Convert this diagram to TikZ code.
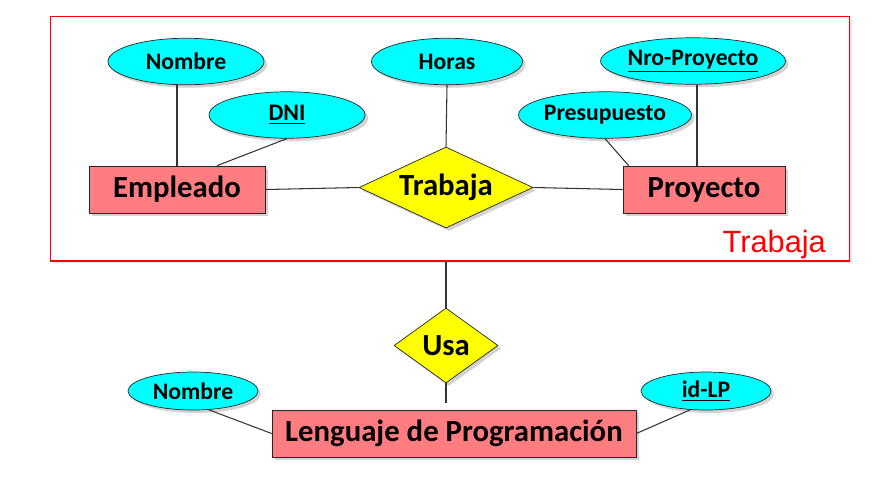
\documentclass[tikz,border=0pt]{standalone}
\usepackage{fontspec}
\setmainfont{Carlito}
\newfontfamily\arialfont{Liberation Sans}
\usepackage{xcolor}
\usetikzlibrary{positioning, shapes.geometric, shadows}
\definecolor{erEntity}{RGB}{255,124,128}
\definecolor{erAttr}{RGB}{0,255,255}
\definecolor{erRel}{RGB}{255,255,0}
\definecolor{erFrame}{RGB}{255,0,0}

\begin{document}
\begin{tikzpicture}[
    x=0.02cm, y=-0.02cm,
    shade/.style={drop shadow={shadow xshift=0.06cm, shadow yshift=-0.06cm, opacity=0.35}},
    entity/.style={draw=black!85, fill=erEntity, shade, minimum height=0.94cm,
      inner sep=0pt, font=\fontsize{17.5}{20}\selectfont\bfseries},
    attr/.style={ellipse, draw=black!85, fill=erAttr, shade, minimum width=3.12cm,
      minimum height=0.93cm, inner sep=0pt, font=\fontsize{13.5}{16}\selectfont\bfseries},
    rel/.style={diamond, draw=black!85, fill=erRel, shade, inner sep=0pt,
      font=\fontsize{17.5}{20}\selectfont\bfseries},
    group/.style={draw=erFrame, line width=0.6pt, fill=white,
      drop shadow={shadow xshift=0.05cm, shadow yshift=-0.05cm, opacity=0.2}},
    link/.style={draw=black!80, line width=0.6pt}
  ]
    \useasboundingbox (0,0) rectangle (884,488);
    % agregacion
    \node[group, minimum width=16cm, minimum height=4.9cm] (agg) at (450,138.5) {};
    \node[text=erFrame, font=\arialfont\fontsize{17.5}{20}\selectfont, anchor=base east] (aggname) at (832,252) {Trabaja};
    % entidades y relacion
    \node[entity, minimum width=3.52cm] (emp) at (177,189.5) {Empleado};
    \node[entity, minimum width=3.24cm] (proy) at (704,189.5) {Proyecto};
    \node[rel, aspect=2.15, minimum width=3.48cm, minimum height=1.62cm] (trab) at (446,187.5) {Trabaja};
    \node[attr] (nom) at (186,61.5) {Nombre};
    \node[attr] (dni) at (287,115) {\underline{DNI}};
    \node[attr, minimum width=3.02cm] (horas) at (447,61.5) {Horas};
    \node[attr, minimum width=3.14cm] (pres) at (605,115) {Presupuesto};
    \node[attr] (nro) at (693,61) {\underline{Nro-Proyecto}};
    % parte de abajo
    \node[rel, aspect=1.39, minimum width=2.08cm, minimum height=1.5cm] (usa) at (446,345.5) {Usa};
    \node[entity, minimum width=7.28cm] (leng) at (454,433.5) {Lenguaje de Programación};
    \node[attr, minimum width=2.6cm, minimum height=0.76cm] (nom2) at (193,391) {Nombre};
    \node[attr, minimum width=2.6cm, minimum height=0.76cm] (idlp) at (706,391) {\underline{id-LP}};
    % lineas
    \draw[link] (emp.east) -- (trab.west);
    \draw[link] (trab.east) -- (proy.west);
    \draw[link] (nom.south) ++(-9,0) -- (emp.north -| 177,0);
    \draw[link] (dni.south) -- ([xshift=0.8cm]emp.north);
    \draw[link] (horas.south) -- (trab.north);
    \draw[link] (pres.south) -- ([xshift=0.12cm]proy.north west);
    \draw[link] (nro.south) ++(4,0) -- (proy.north -| 697,0);
    \draw[link] (usa.north |- agg.south) -- (usa.north);
    \draw[link, shorten >=0.14cm] (usa.south) -- (usa.south |- leng.north);
    \draw[link] (nom2.-50) -- (leng.west);
    \draw[link] (idlp.-130) -- (leng.east);
  \end{tikzpicture}
\end{document}
